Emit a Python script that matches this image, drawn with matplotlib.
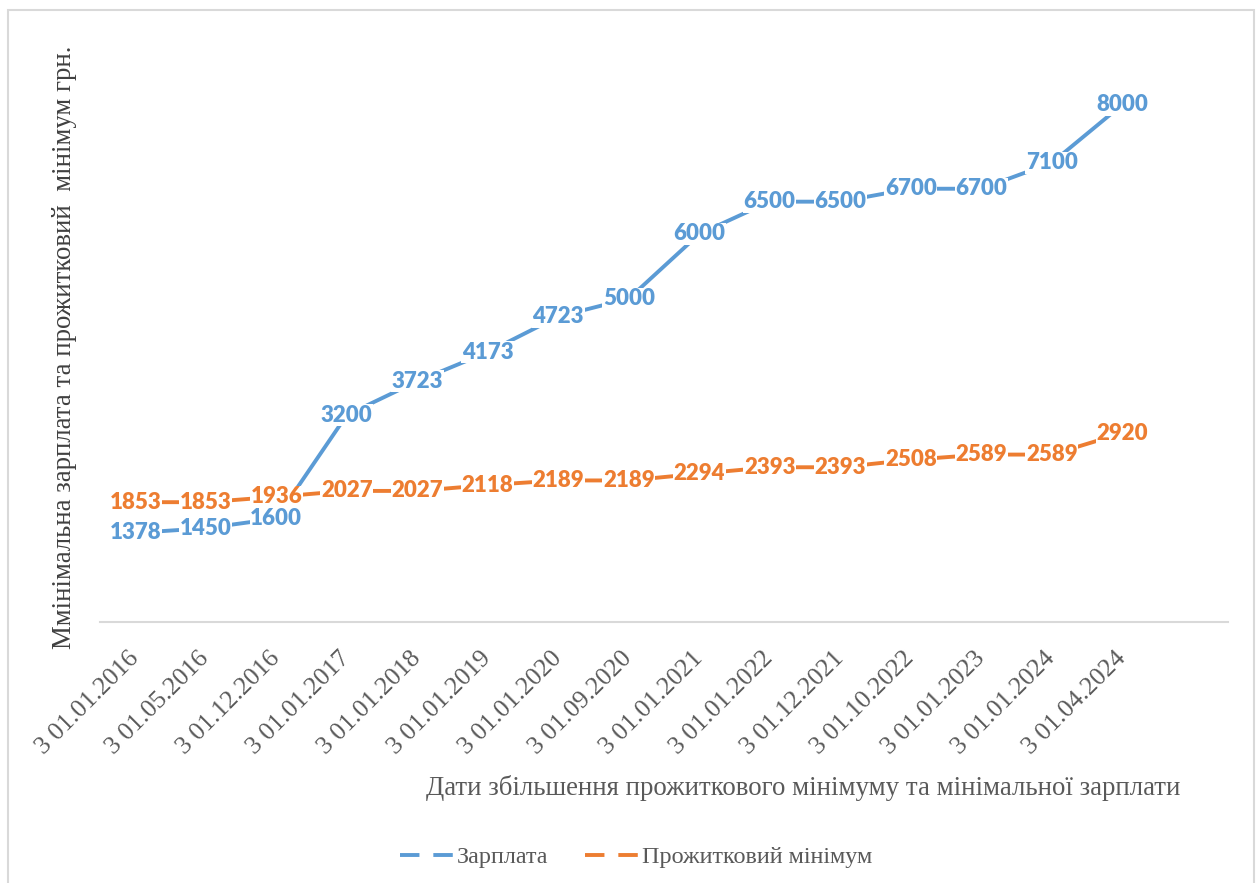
import matplotlib.pyplot as plt
from matplotlib.lines import Line2D
from matplotlib.patches import Rectangle
from matplotlib.transforms import ScaledTranslation

# Дані
dates = ["3 01.01.2016", "3 01.05.2016", "3 01.12.2016", "3 01.01.2017",
         "3 01.01.2018", "3 01.01.2019", "3 01.01.2020", "3 01.09.2020",
         "3 01.01.2021", "3 01.01.2022", "3 01.12.2021", "3 01.10.2022",
         "3 01.01.2023", "3 01.01.2024", "3 01.04.2024"]
salary = [1378, 1450, 1600, 3200, 3723, 4173, 4723, 5000,
          6000, 6500, 6500, 6700, 6700, 7100, 8000]
living_min = [1853, 1853, 1936, 2027, 2027, 2118, 2189, 2189,
              2294, 2393, 2393, 2508, 2589, 2589, 2920]

blue = "#5B9BD5"
orange = "#ED7D31"
gray = "#595959"
serif = ["Liberation Serif", "DejaVu Serif"]

plt.rcParams["lines.scale_dashes"] = False

fig = plt.figure(figsize=(12.59, 8.83), dpi=100)
ax = fig.add_axes([100 / 1259, 1 - 622 / 883, 1128 / 1259, 582 / 883])

x = list(range(len(dates)))
ax.plot(x, salary, color=blue, lw=2.8, solid_capstyle="butt", zorder=2)
ax.plot(x, living_min, color=orange, lw=2.8, solid_capstyle="butt", zorder=2)

## Підписи значень по центру точок
for xi, v in zip(x, salary):
    ax.text(xi, v, str(v), ha="center", va="center", color=blue,
            fontsize=16, fontweight="heavy", family="Lato", zorder=3,
            bbox=dict(facecolor="white", edgecolor="none", pad=0.5))
for xi, v in zip(x, living_min):
    ax.text(xi, v, str(v), ha="center", va="center", color=orange,
            fontsize=16, fontweight="heavy", family="Lato", zorder=3,
            bbox=dict(facecolor="white", edgecolor="none", pad=0.5))

ax.set_xlim(-0.5, 15.5)
ax.set_ylim(0, 9000)
ax.set_yticks([])
ax.set_xticks(x)
ax.set_xticklabels(dates, rotation=45, ha="right", rotation_mode="anchor",
                   family=serif, fontsize=18.5, color=gray)
ax.tick_params(axis="x", length=0, pad=14)
shift = ScaledTranslation(-8 / 100, -6 / 100, fig.dpi_scale_trans)
for lbl in ax.get_xticklabels():
    lbl.set_transform(lbl.get_transform() + shift)
for s in ["top", "right", "left"]:
    ax.spines[s].set_visible(False)
ax.spines["bottom"].set_color("#D9D9D9")
ax.spines["bottom"].set_linewidth(1.5)

fig.text(65 / 1259, 1 - 347 / 883, "Ммінімальна зарплата та прожитковий  мінімум грн.",
         rotation=90, ha="center", va="center", family=serif, fontsize=19.3, color="#404040")
fig.text(803 / 1259, 1 - 788 / 883,
         "Дати збільшення прожиткового мінімуму та мінімальної зарплати",
         ha="center", va="center", family=serif, fontsize=19.4, color=gray)

handles = [Line2D([0], [0], color=blue, lw=2.8, dashes=(14, 10)),
           Line2D([0], [0], color=orange, lw=2.8, dashes=(14, 10))]
fig.legend(handles, ["Зарплата", "Прожитковий мінімум"], loc="center",
           bbox_to_anchor=(636 / 1259, 1 - 857 / 883), ncol=2, frameon=False,
           prop={"family": serif, "size": 17.4}, labelcolor=gray,
           handlelength=2.25, handletextpad=0.1, columnspacing=1.5)

# рамка діаграми
fig.patches.append(Rectangle((8 / 1259, -0.05), 1246 / 1259, 1.05 - 10 / 883,
                             transform=fig.transFigure, fill=False,
                             edgecolor="#D9D9D9", lw=1.5))

fig.savefig("out.png", dpi=100)
